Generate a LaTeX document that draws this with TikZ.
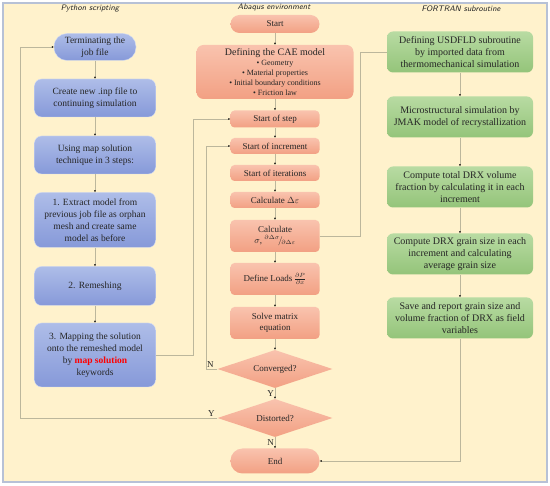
\documentclass[tikz,border=0pt]{standalone}
\usepackage{fontspec}
\setmainfont{Liberation Serif}
\usetikzlibrary{shapes.geometric,arrows.meta}
\definecolor{paper}{HTML}{FFF2CC}
\definecolor{frame}{HTML}{B7C1D6}
\definecolor{wire}{HTML}{BCB79C}
\definecolor{pytop}{HTML}{AEBDE8}
\definecolor{pybot}{HTML}{8699D9}
\definecolor{abtop}{HTML}{F9C3AE}
\definecolor{abbot}{HTML}{F2A083}
\definecolor{ftop}{HTML}{B8DBA3}
\definecolor{fbot}{HTML}{94C47A}
\newcommand{\ratio}[2]{${}^{\partial#1}\!/\!{}_{\partial#2}$}

\begin{document}
\begin{tikzpicture}[x=1pt, y=-1pt,
    every node/.style={text=black!85},
    pystep/.style={draw=pytop!50!white, thin, top color=pytop, bottom color=pybot, rounded corners=7pt,
      align=center, minimum width=121pt, inner sep=1pt, font=\fontsize{9.5}{12}\selectfont},
    abstep/.style={top color=abtop, bottom color=abbot, rounded corners=4pt,
      align=center, minimum width=89pt, inner sep=1pt, font=\fontsize{9}{11}\selectfont},
    fstep/.style={top color=ftop, bottom color=fbot, rounded corners=6pt,
      align=center, minimum width=146pt, minimum height=41pt, inner sep=1pt, font=\fontsize{10}{12}\selectfont},
    check/.style={diamond, aspect=3, top color=abtop, bottom color=abbot,
      minimum width=115pt, minimum height=38pt, inner sep=0pt, font=\fontsize{9}{11}\selectfont},
    link/.style={draw=wire, thin, -{Latex[length=2pt,width=2pt,color=black]}},
    bare/.style={draw=wire, thin},
    yn/.style={inner sep=1pt, font=\fontsize{9}{10}\selectfont},
    colhead/.style={font=\sffamily\itshape\fontsize{8}{9}\selectfont}]
  \useasboundingbox (0,0) rectangle (550,486);

  % sheet
  \fill[paper] (3,3) rectangle (547,482);
  \draw[frame, line width=1.2pt] (3,3) rectangle (547,482);

  % column heads
  \node[colhead] (hpy) at (90,9) {Python scripting};
  \node[colhead] (hab) at (274,8) {Abaqus environment};
  \node[colhead] (hfo) at (461,9) {FORTRAN subroutine};

  % python column
  \node[pystep, minimum width=82pt, minimum height=27pt, rounded corners=13pt] (term) at (95,47) {Terminating the\\job file};
  \node[pystep, minimum height=38pt] (inp) at (95,98) {Create new .inp file to\\continuing simulation};
  \node[pystep, minimum height=38pt] (tech) at (95,155) {Using map solution\\technique in 3 steps:};
  \node[pystep, minimum height=55pt] (extr) at (95,220) {1. Extract model from\\previous job file as orphan\\mesh and create same\\model as before};
  \node[pystep, minimum height=39pt] (rem) at (95,286) {2. Remeshing};
  \node[pystep, minimum height=64pt] (map) at (95,355) {3. Mapping the solution\\onto the remeshed model\\by \textcolor{red}{\textbf{map solution}}\\keywords};

  % abaqus column
  \node[abstep, minimum height=18pt, rounded corners=9pt] (start) at (275,24) {Start};
  \node[abstep, minimum width=157pt, minimum height=54pt, rounded corners=7pt, font=\fontsize{8}{10}\selectfont] (cae) at (275,72)
    {{\fontsize{10}{12}\selectfont Defining the CAE model}\\\textbullet\ Geometry\\\textbullet\ Material properties\\\textbullet\ Initial boundary conditions\\\textbullet\ Friction law};
  \node[abstep, minimum height=17pt] (step) at (275,119) {Start of step};
  \node[abstep, minimum height=16pt] (inc) at (275,146) {Start of increment};
  \node[abstep, minimum height=16pt] (iter) at (275,173) {Start of iterations};
  \node[abstep, minimum height=16pt] (deps) at (275,200) {Calculate $\Delta\varepsilon$};
  \node[abstep, minimum height=32pt] (calc) at (275,236) {Calculate\\$\sigma$, \ratio{\Delta\sigma}{\Delta\varepsilon}};
  \node[abstep, minimum height=32pt] (load) at (275,279) {Define Loads\,$\frac{\partial P}{\partial x}$};
  \node[abstep, minimum height=32pt] (solve) at (275,323) {Solve matrix\\equation};
  \node[check] (conv) at (275,369) {Converged?};
  \node[check] (dist) at (275,418) {Distorted?};
  \node[abstep, minimum height=25pt, rounded corners=12pt] (finish) at (275,461) {End};

  % fortran column
  \node[fstep] (usd) at (460,52) {Defining USDFLD subroutine\\by imported data from\\thermomechanical simulation};
  \node[fstep] (micro) at (460,117) {Microstructural simulation by\\JMAK model of recrystallization};
  \node[fstep] (total) at (460,187) {Compute total DRX volume\\fraction by calculating it in each\\increment};
  \node[fstep] (grain) at (460,254) {Compute DRX grain size in each\\increment and calculating\\average grain size};
  \node[fstep] (save) at (460,318) {Save and report grain size and\\volume fraction of DRX as field\\variables};

  % straight links
  \foreach \a/\b in {term/inp, inp/tech, tech/extr, extr/rem, rem/map,
                     start/cae, cae/step, step/inc, inc/iter, iter/deps, deps/calc, calc/load, load/solve, solve/conv,
                     usd/micro, micro/total, total/grain, grain/save}
    \draw[link] (\a) -- (\b);
  \draw[link] (conv) -- node[yn, left] {Y} (dist);
  \draw[link] (dist) -- node[yn, left] {N} (finish);

  % loops
  \coordinate (xpy) at (20,0);
  \coordinate (xstep) at (193,0);
  \coordinate (xinc) at (206,0);
  \coordinate (xfor) at (360,0);
  \draw[link] (dist.west) -- node[yn, above, pos=.03] {Y} (dist.west -| xpy) |- (term.west);
  \draw[link] (conv.west) -- (conv.west -| xinc) node[yn, above right] {N} |- (inc.west);
  \draw[link] (map.east) -- (map.east -| xstep) |- (step.west);
  \draw[bare] (calc.east) -- (calc.east -| xfor) |- (usd.west);
  \draw[link] (save.south) |- (finish.east);
\end{tikzpicture}
\end{document}
